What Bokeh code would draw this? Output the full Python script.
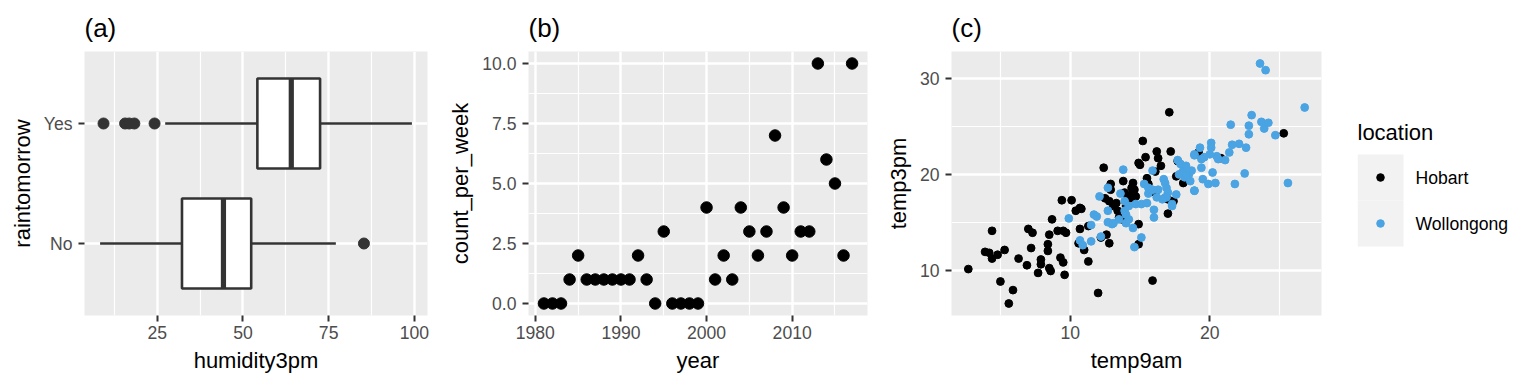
from bokeh.plotting import figure
from bokeh.layouts import row
from bokeh.models import Range1d, FixedTicker
from bokeh.embed import file_html
from bokeh.resources import INLINE
from bokeh.core.properties import value

FONT = "Liberation Sans"

# ---------------- (a) boxplot data ----------------
rain_cats = ["No", "Yes"]
hum_q1 = [32.2, 54.2]
hum_med = [44.3, 64.1]
hum_q3 = [52.4, 72.5]
hum_lo = [8.3, 27.3]
hum_hi = [77.1, 99.3]
out_cat = ["No", "Yes", "Yes", "Yes", "Yes", "Yes"]
out_val = [85.3, 9.3, 15.6, 16.8, 18.3, 24.2]
hum_ticks = [25, 50, 75, 100]
hum_minor = [12.5, 37.5, 62.5, 87.5]

# ---------------- (b) scatter data ----------------
years = [1981, 1982, 1983, 1984, 1985, 1986, 1987, 1988, 1989, 1990,
         1991, 1992, 1993, 1994, 1995, 1996, 1997, 1998, 1999, 2000,
         2001, 2002, 2003, 2004, 2005, 2006, 2007, 2008, 2009, 2010,
         2011, 2012, 2013, 2014, 2015, 2016, 2017]
counts = [0, 0, 0, 1, 2, 1, 1, 1, 1, 1,
          1, 2, 1, 0, 3, 0, 0, 0, 0, 4,
          1, 2, 1, 4, 3, 2, 3, 7, 4, 2,
          3, 3, 10, 6, 5, 2, 10]
year_ticks = [1980, 1990, 2000, 2010]
year_minor = [1985, 1995, 2005, 2015]
count_ticks = [0.0, 2.5, 5.0, 7.5, 10.0]
count_tick_labels = ["0.0", "2.5", "5.0", "7.5", "10.0"]
count_minor = [1.25, 3.75, 6.25, 8.75]

# ---------------- (c) scatter data ----------------
hobart_9am = [2.7, 3.9, 4.2, 4.4, 4.4, 4.8, 5.3, 5.0, 5.9, 5.6, 6.3, 6.9, 7.0, 7.3, 7.2,
              7.7, 7.9, 7.9, 8.4, 8.4, 8.5, 8.5, 8.6, 8.7, 9.1, 9.3, 9.4, 9.5, 9.5, 9.6,
              9.7, 10.1, 10.4, 10.7, 10.8, 10.7, 10.6, 11.0, 11.3, 11.3, 12.0, 12.4, 12.2,
              12.6, 12.8, 12.5, 12.8, 12.9, 12.9, 13.1, 13.3, 13.4, 13.5, 13.7, 13.8, 13.9,
              14.1, 14.4, 14.5, 14.4, 14.6, 14.9, 14.9, 15.2, 14.9, 15.0, 15.4, 15.5, 15.6,
              16.1, 15.9, 16.2, 16.3, 16.5, 16.1, 17.0, 17.1, 17.2, 17.4, 17.0, 17.6, 17.7,
              18.1, 19.2, 19.1, 20.8, 25.3, 14.0, 14.3, 14.7]
hobart_3pm = [10.1, 11.9, 11.8, 14.1, 11.2, 11.6, 12.1, 8.8, 7.9, 6.5, 11.2, 10.5, 14.3, 13.9, 12.3,
              9.7, 11.1, 10.6, 12.7, 12.0, 13.7, 10.2, 9.9, 15.3, 14.1, 11.3, 17.3, 10.8, 14.1, 9.5,
              13.9, 17.3, 16.2, 16.5, 16.4, 14.3, 12.8, 12.1, 10.9, 14.6, 7.6, 20.7, 13.4,
              13.7, 12.8, 17.5, 17.2, 19.0, 18.4, 16.7, 17.0, 16.2, 15.5, 15.3, 19.3, 18.1,
              17.6, 17.9, 19.1, 18.6, 18.4, 12.7, 14.8, 23.5, 21.2, 21.0, 21.8, 19.6, 19.0,
              20.3, 8.9, 22.4, 21.7, 20.9, 18.1, 15.9, 26.5, 22.4, 17.2, 17.4, 19.8, 21.4,
              19.1, 22.3, 22.1, 21.7, 24.3, 16.7, 17.5, 17.7]
woll_9am = [9.9, 10.7, 10.9, 11.5, 11.5, 11.7, 11.9, 12.1, 12.2, 12.7, 12.7, 12.7, 13.0, 13.1,
            13.6, 13.8, 13.5, 13.9, 13.9, 14.0, 14.0, 14.2, 14.2, 14.5, 14.6, 15.1, 14.7, 15.1,
            15.5, 15.3, 15.6, 15.6, 15.8, 15.9, 16.0, 16.0, 16.3, 16.7, 16.8, 16.9, 16.8, 17.0,
            17.3, 17.6, 17.7, 17.9, 18.1, 18.3, 18.2, 18.5, 18.6, 18.7, 18.9, 18.9, 19.3, 19.4,
            19.5, 19.6, 19.9, 20.0, 20.1, 20.1, 20.2, 20.4, 20.5, 21.1, 21.4, 21.5, 21.6, 21.8,
            22.1, 22.5, 22.6, 22.8, 22.8, 23.0, 23.6, 24.0, 23.7, 23.9, 24.2, 24.7, 25.6, 26.8,
            19.4, 18.9, 20.6, 16.9, 16.6, 16.2, 17.3, 18.9, 15.9, 17.8, 18.3]
woll_3pm = [15.4, 13.1, 12.6, 14.7, 13.0, 15.8, 15.6, 17.7, 13.5, 18.6, 16.2, 15.0, 14.8, 14.9,
            18.0, 20.5, 15.3, 17.2, 16.2, 14.9, 15.8, 15.3, 16.7, 14.4, 12.4, 13.4, 16.9, 16.9,
            17.0, 19.0, 18.6, 18.0, 18.4, 20.4, 16.3, 15.5, 18.4, 19.5, 19.1, 18.6, 17.6, 18.1,
            16.7, 17.9, 21.5, 21.1, 20.4, 20.9, 19.7, 20.0, 19.3, 20.4, 18.3, 22.0, 22.8, 20.7,
            19.5, 21.8, 19.0, 22.1, 23.3, 22.8, 20.2, 19.1, 21.9, 21.5, 22.3, 25.2, 23.1, 19.0,
            23.2, 20.1, 22.8, 24.2, 25.1, 26.2, 31.6, 30.9, 25.5, 24.8, 25.4, 24.1, 19.1, 27.0,
            21.6, 22.1, 21.6, 17.6, 17.4, 17.6, 16.9, 18.3, 18.4, 20.0, 19.9]
locations = ["Hobart", "Wollongong"]
loc_colors = ["#000000", "#4AA3E2"]
legend_title = "location"
t9_ticks = [10, 20]
t9_minor = [5, 15, 25]
t3_ticks = [10, 20, 30]
t3_minor = [15, 25]

PANEL_BG = "#EBEBEB"
FRAME_H = 264
TOP = 51
BOTTOM = 68


def expand(vals, frac=0.05):
    lo, hi = min(vals), max(vals)
    pad = (hi - lo) * frac
    return Range1d(lo - pad, hi + pad)


def make_fig(title, frame_w, left, right, x_range, y_range):
    p = figure(frame_width=frame_w, frame_height=FRAME_H, x_range=x_range, y_range=y_range,
               min_border_left=left, min_border_right=right, min_border_top=TOP,
               min_border_bottom=BOTTOM, toolbar_location=None, output_backend="svg",
               title=title)
    p.background_fill_color = PANEL_BG
    p.border_fill_color = "white"
    p.outline_line_color = None
    p.title.text_font = FONT
    p.title.text_font_size = "26px"
    p.title.text_font_style = "normal"
    p.title.text_color = "black"
    p.title.align = "left"
    p.title.standoff = 18
    for ax in (p.xaxis[0], p.yaxis[0]):
        ax.axis_line_color = None
        ax.major_tick_line_color = "#333333"
        ax.major_tick_line_width = 2
        ax.major_tick_out = 6
        ax.major_tick_in = 0
        ax.minor_tick_line_color = None
        ax.major_label_text_font = FONT
        ax.major_label_text_font_size = "17.6px"
        ax.major_label_text_color = "#4D4D4D"
        ax.major_label_standoff = 4
        ax.axis_label_text_font = FONT
        ax.axis_label_text_font_size = "22px"
        ax.axis_label_text_font_style = "normal"
        ax.axis_label_text_color = "black"
        ax.axis_label_standoff = 6
    p.yaxis[0].major_label_standoff = 6
    for g in (p.xgrid[0], p.ygrid[0]):
        g.grid_line_color = "white"
        g.grid_line_width = 2.4
        g.minor_grid_line_color = "white"
        g.minor_grid_line_width = 1.2
    return p


# ---------------- panel (a) ----------------
all_hum = hum_lo + hum_hi + out_val
pos = {c: i + 1 for i, c in enumerate(rain_cats)}
ya = [pos[c] for c in rain_cats]
pa = make_fig("(a)", 343, 84, 18, expand(all_hum), Range1d(0.4, len(rain_cats) + 0.6))
pa.xaxis.ticker = FixedTicker(ticks=hum_ticks, minor_ticks=hum_minor)
pa.yaxis.ticker = FixedTicker(ticks=ya)
pa.yaxis.major_label_overrides = {float(pos[c]): c for c in rain_cats}
pa.xaxis.axis_label = "humidity3pm"
pa.yaxis.axis_label = "raintomorrow"
pa.ygrid.minor_grid_line_color = None
BOX_H = 0.75
BOX_LINE = "#333333"
pa.segment(x0=hum_lo, y0=ya, x1=hum_q1, y1=ya, line_color=BOX_LINE, line_width=2.6)
pa.segment(x0=hum_q3, y0=ya, x1=hum_hi, y1=ya, line_color=BOX_LINE, line_width=2.6)
pa.hbar(y=ya, left=hum_q1, right=hum_q3, height=BOX_H, fill_color="white",
        line_color=BOX_LINE, line_width=2.6)
pa.segment(x0=hum_med, y0=[v - BOX_H / 2 for v in ya], x1=hum_med,
           y1=[v + BOX_H / 2 for v in ya], line_color=BOX_LINE, line_width=5.2)
pa.scatter(x=out_val, y=[pos[c] for c in out_cat], size=11, fill_color=BOX_LINE,
           line_color=BOX_LINE)

# ---------------- panel (b) ----------------
pb = make_fig("(b)", 339, 82, 14, expand(years), expand(counts))
pb.xaxis.ticker = FixedTicker(ticks=year_ticks, minor_ticks=year_minor)
pb.yaxis.ticker = FixedTicker(ticks=count_ticks, minor_ticks=count_minor)
pb.yaxis.major_label_overrides = dict(zip(count_ticks, count_tick_labels))
pb.xaxis.axis_label = "year"
pb.yaxis.axis_label = "count_per_week"
pb.scatter(x=years, y=counts, size=11.5, color="black")

# ---------------- panel (c) ----------------
pc = make_fig("(c)", 370, 70, 8, expand(hobart_9am + woll_9am), expand(hobart_3pm + woll_3pm))
pc.xaxis.ticker = FixedTicker(ticks=t9_ticks, minor_ticks=t9_minor)
pc.yaxis.ticker = FixedTicker(ticks=t3_ticks, minor_ticks=t3_minor)
pc.xaxis.axis_label = "temp9am"
pc.yaxis.axis_label = "temp3pm"
pc.scatter(x=hobart_9am, y=hobart_3pm, size=7.8, color=loc_colors[0])
pc.scatter(x=woll_9am, y=woll_3pm, size=7.8, color=loc_colors[1])

# ---------------- legend (own panel; one key unit = 46 px) ----------------
KEY_W = 46
loc_pos = [i + 1 for i in range(len(locations))]
units_above = 126 / KEY_W
units_total = FRAME_H / KEY_W
pl = figure(frame_width=172, frame_height=FRAME_H, x_range=Range1d(0, 172),
            y_range=Range1d(1 - units_above + units_total, 1 - units_above),
            min_border_left=28, min_border_right=8, min_border_top=TOP, min_border_bottom=BOTTOM,
            toolbar_location=None, output_backend="svg",
            x_axis_location=None, y_axis_location=None)
pl.background_fill_color = "white"
pl.border_fill_color = "white"
pl.outline_line_color = None
pl.grid.visible = False
pl.rect(x=KEY_W / 2, y=loc_pos, width=KEY_W, height=1, fill_color="#F2F2F2", line_color=None)
pl.scatter(x=KEY_W / 2, y=loc_pos, size=7.6, color=loc_colors)
pl.text(x=58, y=loc_pos, text=locations, text_baseline="middle", text_align="left",
        text_font=value(FONT), text_font_size="17.6px", text_color="black")
pl.text(x=0, y=[0.02], text=[legend_title], text_baseline="middle", text_align="left",
        text_font=value(FONT), text_font_size="22px", text_color="black")

layout = row(pa, pb, pc, pl)
open("out.html", "w").write(file_html(layout, INLINE))
